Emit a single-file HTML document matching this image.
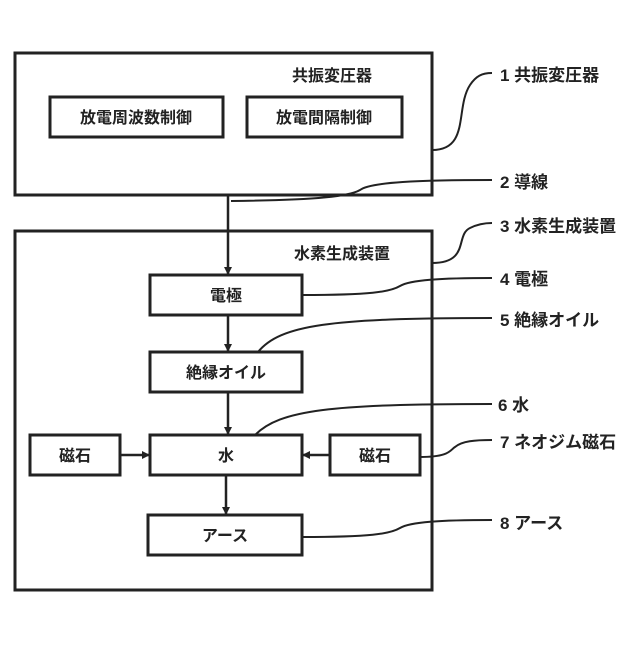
<!DOCTYPE html>
<html><head><meta charset="utf-8"><style>
html,body{margin:0;padding:0;background:#fff;}
svg text{font-family:"Liberation Sans","Noto Sans CJK JP",sans-serif;font-weight:bold;fill:#222;}
</style></head><body>
<svg width="640" height="640" viewBox="0 0 640 640" xmlns="http://www.w3.org/2000/svg">
<defs><marker id="a" markerWidth="8" markerHeight="8" refX="7" refY="4" orient="auto" markerUnits="userSpaceOnUse"><path d="M0,0 L8,4 L0,8 z" fill="#222"/></marker></defs>
<g fill="none" stroke="#222" stroke-width="3">
<rect x="15" y="53" width="417" height="142"/>
<rect x="50" y="97" width="173" height="40"/>
<rect x="247" y="97" width="155" height="40"/>
<rect x="15" y="231" width="417" height="359"/>
<rect x="150" y="275" width="152" height="40"/>
<rect x="150" y="352" width="152" height="40"/>
<rect x="150" y="435" width="152" height="40"/>
<rect x="30" y="435" width="90" height="40"/>
<rect x="330" y="435" width="90" height="40"/>
<rect x="148" y="515" width="154" height="40"/>
</g>
<g stroke="#222" stroke-width="2.5" fill="none" marker-end="url(#a)">
<line x1="228" y1="195" x2="228" y2="274"/>
<line x1="228" y1="315" x2="228" y2="351"/>
<line x1="228" y1="392" x2="228" y2="434"/>
<line x1="226" y1="475" x2="226" y2="514"/>
<line x1="120" y1="455" x2="149" y2="455"/>
<line x1="330" y1="455" x2="303" y2="455"/>
</g>
<g stroke="#222" stroke-width="2" fill="none">
<path d="M432,150 C470,150 455,108 470,85 C476,76 482,73 492,73"/>
<path d="M231,201 C320,200 350,196 360,190 C370,182 420,180 492,180"/>
<path d="M432,263 C470,263 455,235 470,228 C476,225 482,223 492,223"/>
<path d="M302,295 C370,295 390,292 400,286 C410,280 440,278 492,278"/>
<path d="M258,352 C280,325 330,318 492,318"/>
<path d="M255,435 C280,410 330,404 492,404"/>
<path d="M420,457 C450,457 450,450 455,447 C462,441 475,440 492,440"/>
<path d="M302,537 C370,537 390,534 400,528 C410,522 440,520 492,520"/>
</g>
<g font-size="16">
<text x="332" y="81" text-anchor="middle">共振変圧器</text>
<text x="136" y="123" text-anchor="middle">放電周波数制御</text>
<text x="324" y="123" text-anchor="middle">放電間隔制御</text>
<text x="342" y="259" text-anchor="middle">水素生成装置</text>
<text x="226" y="301" text-anchor="middle">電極</text>
<text x="226" y="378" text-anchor="middle">絶縁オイル</text>
<text x="226" y="461" text-anchor="middle">水</text>
<text x="75" y="461" text-anchor="middle">磁石</text>
<text x="375" y="461" text-anchor="middle">磁石</text>
<text x="225" y="541" text-anchor="middle">アース</text>
</g>
<g font-size="17">
<text x="500" y="81">1 共振変圧器</text>
<text x="500" y="188">2 導線</text>
<text x="500" y="232">3 水素生成装置</text>
<text x="500" y="285">4 電極</text>
<text x="500" y="326">5 絶縁オイル</text>
<text x="498" y="411">6 水</text>
<text x="500" y="448">7 ネオジム磁石</text>
<text x="500" y="529">8 アース</text>
</g>
</svg>
</body></html>
